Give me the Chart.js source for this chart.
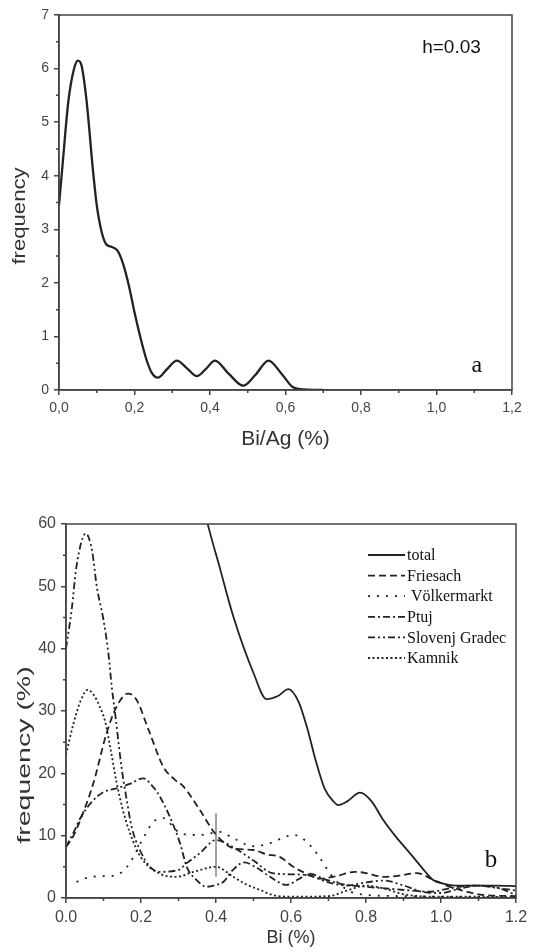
<!DOCTYPE html>
<html lang="en">
<head>
<meta charset="utf-8">
<title>Bi frequency</title>
<script src="https://cdn.jsdelivr.net/npm/chart.js@4/dist/chart.umd.min.js"></script>
<style>
  body { margin: 0; background: #fff; }
  canvas { display: block; }
</style>
</head>
<body>
<canvas id="chartA" width="533" height="460"></canvas>
<canvas id="chartB" width="533" height="492"></canvas>
<script>
// ---- chart a : kernel density, h=0.03
const biAg = [0, 0.01, 0.025, 0.04, 0.05, 0.06, 0.073, 0.09, 0.1, 0.113, 0.125, 0.14, 0.155, 0.17,
  0.185, 0.2, 0.215, 0.232, 0.245, 0.262, 0.285, 0.312, 0.34, 0.365, 0.39, 0.413, 0.45, 0.488,
  0.52, 0.555, 0.59, 0.62, 0.65, 0.7];
const freqA = [3.45, 4.25, 5.4, 6.0, 6.15, 6.05, 5.4, 4.1, 3.45, 2.95, 2.72, 2.67, 2.6, 2.35,
  1.95, 1.45, 1.0, 0.56, 0.33, 0.23, 0.38, 0.55, 0.4, 0.26, 0.4, 0.55, 0.3, 0.08,
  0.28, 0.55, 0.3, 0.05, 0.01, 0];
const xTicksA = [0, 0.2, 0.4, 0.6, 0.8, 1.0, 1.2];
const yTicksA = [0, 1, 2, 3, 4, 5, 6, 7];

// ---- chart b : by locality
const totalBi = [0.3, 0.35, 0.38, 0.41, 0.446, 0.5, 0.535, 0.565, 0.593, 0.62, 0.642, 0.668, 0.69,
  0.713, 0.726, 0.75, 0.784, 0.815, 0.846, 0.88, 0.917, 0.95, 0.979, 1.006, 1.04, 1.1, 1.15, 1.2];
const totalFreq = [78, 67, 59.5, 53, 45.2, 36.1, 31.9, 32.4, 33.5, 31.5, 27.5, 21.6, 17.5,
  15.5, 14.9, 15.5, 16.9, 15.5, 12.5, 9.8, 7.2, 4.8, 2.9, 2.3, 2.0, 2.0, 2.0, 1.9];

const friesachBi = [0, 0.02, 0.04, 0.073, 0.108, 0.135, 0.165, 0.188, 0.22, 0.26, 0.29, 0.313,
  0.357, 0.397, 0.446, 0.5, 0.535, 0.57, 0.606, 0.642, 0.677, 0.72, 0.77, 0.8, 0.846, 0.89,
  0.935, 0.98, 1.024, 1.07, 1.11, 1.2];
const friesachFreq = [8.2, 10, 12.8, 18.4, 26.4, 30.7, 32.8, 31.8, 27, 21, 19, 17.9,
  14.1, 10.4, 8.0, 7.7, 7.0, 6.6, 5.0, 3.9, 3.1, 3.5, 4.2, 4.0, 3.4, 3.6,
  4.0, 2.9, 1.8, 1.0, 0.5, 0.3];

const volkerBi = [0.028, 0.06, 0.1, 0.135, 0.16, 0.18, 0.205, 0.233, 0.26, 0.285, 0.304, 0.357,
  0.41, 0.446, 0.5, 0.544, 0.584, 0.61, 0.642, 0.668, 0.686, 0.704, 0.73, 0.76, 0.8, 0.9, 1.0, 1.1, 1.2];
const volkerFreq = [2.6, 3.3, 3.5, 3.7, 4.8, 6.6, 9.5, 12.2, 12.8, 11.5, 10.4, 10.1,
  10.6, 9.6, 8.3, 8.8, 9.8, 10.1, 9.0, 7.2, 5.6, 3.9, 2.2, 1.0, 0.5, 0.3, 0.2, 0.1, 0.1];

const ptujBi = [0, 0.02, 0.04, 0.07, 0.1, 0.135, 0.17, 0.206, 0.23, 0.25, 0.277, 0.304, 0.322,
  0.348, 0.375, 0.4, 0.42, 0.445, 0.475, 0.51, 0.544, 0.588, 0.62, 0.65, 0.69, 0.74, 0.8,
  0.86, 0.92, 0.97, 1.02, 1.08, 1.14, 1.2];
const ptujFreq = [8.2, 10.5, 13, 15.5, 17, 17.6, 18.3, 19.2, 18, 16.3, 13, 8.8, 5,
  2.9, 1.8, 2.1, 2.6, 4.5, 5.7, 4.8, 3.4, 2.1, 3.0, 3.9, 3.0, 2.2, 1.8,
  1.5, 1.2, 1.0, 1.5, 2.0, 1.8, 0.5];

const slovenjBi = [0, 0.015, 0.028, 0.053, 0.07, 0.082, 0.1, 0.113, 0.122, 0.131, 0.148, 0.162,
  0.175, 0.197, 0.224, 0.25, 0.3, 0.322, 0.357, 0.4, 0.45, 0.5, 0.55, 0.6, 0.65, 0.7, 0.75,
  0.8, 0.85, 0.9, 0.95, 1.0, 1.05, 1.1, 1.15, 1.2];
const slovenjFreq = [40, 46.2, 53.2, 58.5, 55.5, 50, 44.6, 39.3, 33.9, 29.6, 21, 15.7,
  11.4, 7.7, 5, 4.2, 4.5, 5.6, 7.2, 9.3, 8.0, 6.0, 4.0, 3.8, 3.6, 2.5, 2.0,
  2.5, 2.8, 2.0, 1.0, 0.8, 1.5, 2.0, 1.6, 1.2];

const kamnikBi = [0, 0.02, 0.04, 0.058, 0.075, 0.09, 0.104, 0.12, 0.135, 0.15, 0.17, 0.2, 0.25,
  0.295, 0.34, 0.4, 0.446, 0.48, 0.517, 0.55, 0.6, 0.7, 0.75, 0.8, 0.85, 0.9, 1.0, 1.1, 1.2];
const kamnikFreq = [23, 28, 31.8, 33.4, 32.5, 30.7, 28.4, 23.5, 18.5, 14.5, 10.5, 6.5, 3.9,
  3.4, 4.2, 5.0, 3.4, 2.2, 1.3, 0.5, 0.2, 0.3, 1.2, 2.0, 1.5, 0.6, 0.2, 0.2, 0.1];

const markBi = [0.4, 0.4];
const markFreq = [3.4, 13.6];

const xTicksB = [0, 0.2, 0.4, 0.6, 0.8, 1.0, 1.2];
const yTicksB = [0, 10, 20, 30, 40, 50, 60];
const xMinor = [0.1, 0.3, 0.5, 0.7, 0.9, 1.1];
const yMinorA = [0.5, 1.5, 2.5, 3.5, 4.5, 5.5, 6.5];
const yMinorB = [5, 15, 25, 35, 45, 55];

const SANS = '"Liberation Sans", Arial, sans-serif';
const SERIF = '"Liberation Serif", "Times New Roman", serif';
const INK = '#222';

function pts(xs, ys) {
  return xs.map((v, i) => ({x: v, y: ys[i]}));
}

function curve(label, xs, ys, dash, width) {
  return {
    label: label,
    data: pts(xs, ys),
    borderColor: INK,
    borderWidth: width,
    borderDash: dash,
    pointRadius: 0,
    fill: false,
    cubicInterpolationMode: 'monotone'
  };
}

// frame, minor ticks, titles, notes and legend
const decor = {
  id: 'decor',
  afterDraw(chart, args, o) {
    const {ctx, chartArea: a} = chart;
    const sx = chart.scales.x, sy = chart.scales.y;
    ctx.save();
    ctx.strokeStyle = '#444';
    ctx.lineWidth = 1.5;
    ctx.setLineDash([]);
    ctx.strokeRect(a.left, a.top, a.right - a.left, a.bottom - a.top);

    ctx.beginPath();
    xMinor.forEach(v => {
      const p = sx.getPixelForValue(v);
      ctx.moveTo(p, a.bottom); ctx.lineTo(p, a.bottom + 3);
    });
    o.yMinor.forEach(v => {
      const p = sy.getPixelForValue(v);
      ctx.moveTo(a.left, p); ctx.lineTo(a.left - 3, p);
    });
    ctx.stroke();

    // axis titles
    ctx.fillStyle = '#333';
    ctx.textAlign = 'center';
    ctx.textBaseline = 'middle';
    ctx.font = o.xTitleSize + 'px ' + SANS;
    ctx.fillText(o.xTitle, (a.left + a.right) / 2, a.bottom + o.xTitleOff);

    ctx.save();
    ctx.translate(o.yTitleX, a.top + o.yTitleOff);
    ctx.rotate(-Math.PI / 2);
    ctx.scale(o.yStretch, 1);
    ctx.font = o.yTitleSize + 'px ' + SANS;
    ctx.fillText(o.yTitle, 0, 0);
    ctx.restore();

    // notes placed in data units
    ctx.textBaseline = 'alphabetic';
    o.notes.forEach(n => {
      ctx.font = n.font;
      ctx.textAlign = n.align;
      ctx.fillStyle = '#111';
      ctx.fillText(n.text, sx.getPixelForValue(n.x), sy.getPixelForValue(n.y));
    });

    // legend inside the plot
    if (o.legend) {
      const x0 = a.right - 148, x1 = a.right - 111;
      let yy = a.top + 31;
      ctx.font = '16px ' + SERIF;
      ctx.textAlign = 'left';
      ctx.textBaseline = 'middle';
      chart.data.datasets.forEach(ds => {
        if (!ds.label) return;
        ctx.strokeStyle = INK;
        ctx.lineWidth = ds.borderWidth;
        ctx.setLineDash(ds.borderDash || []);
        ctx.beginPath();
        ctx.moveTo(x0, yy); ctx.lineTo(x1, yy);
        ctx.stroke();
        ctx.fillStyle = '#111';
        const gap = ds.label === 'Völkermarkt' ? 6 : 2;
        ctx.fillText(ds.label, x1 + gap, yy + 1);
        yy += 20.6;
      });
    }
    ctx.restore();
  }
};

function axes(xTicks, yTicks, fmtX, tickSize, yWidth, xHeight, yMax) {
  const tf = {family: SANS, size: tickSize};
  return {
    x: {
      type: 'linear', min: 0, max: 1.2,
      afterBuildTicks: s => { s.ticks = xTicks.map(v => ({value: v})); },
      afterFit: s => { s.height = xHeight; },
      ticks: {callback: fmtX, color: '#444', font: tf, padding: 5, maxRotation: 0, autoSkip: false},
      grid: {drawOnChartArea: false, drawTicks: true, tickLength: 5, color: '#444', lineWidth: 1.5},
      border: {color: '#444', width: 1.5}
    },
    y: {
      type: 'linear', min: 0, max: yMax,
      afterBuildTicks: s => { s.ticks = yTicks.map(v => ({value: v})); },
      afterFit: s => { s.width = yWidth; },
      ticks: {color: '#444', font: tf, padding: 5, autoSkip: false},
      grid: {drawOnChartArea: false, drawTicks: true, tickLength: 5, color: '#444', lineWidth: 1.5},
      border: {color: '#444', width: 1.5}
    }
  };
}

new Chart(document.getElementById('chartA'), {
  type: 'line',
  data: {datasets: [curve('', biAg, freqA, [], 2.3)]},
  options: {
    responsive: false,
    animation: false,
    layout: {padding: {top: 15, right: 21, left: 0, bottom: 0}},
    scales: axes(xTicksA, yTicksA, v => v.toFixed(1).replace('.', ','), 14, 59, 70, 7),
    plugins: {
      legend: {display: false},
      tooltip: {enabled: false},
      decor: {
        yMinor: yMinorA,
        xTitle: 'Bi/Ag (%)', xTitleSize: 21, xTitleOff: 49,
        yTitle: 'frequency', yTitleSize: 18, yTitleX: 20, yTitleOff: 201, yStretch: 1.23,
        notes: [
          {text: 'h=0.03', x: 0.962, y: 6.29, font: '19px ' + SANS, align: 'left'},
          {text: 'a', x: 1.107, y: 0.34, font: '24px ' + SERIF, align: 'center'}
        ]
      }
    }
  },
  plugins: [decor]
});

const marker = curve('', markBi, markFreq, [], 1.6);
marker.borderColor = '#8a8a8a';

new Chart(document.getElementById('chartB'), {
  type: 'line',
  data: {
    datasets: [
      curve('total', totalBi, totalFreq, [], 1.8),
      curve('Friesach', friesachBi, friesachFreq, [7, 4], 1.8),
      curve('Völkermarkt', volkerBi, volkerFreq, [2, 7], 1.8),
      curve('Ptuj', ptujBi, ptujFreq, [7, 3, 2, 3], 1.8),
      curve('Slovenj Gradec', slovenjBi, slovenjFreq, [7, 3, 2, 3, 2, 3], 1.8),
      curve('Kamnik', kamnikBi, kamnikFreq, [2, 2.5], 1.8),
      marker
    ]
  },
  options: {
    responsive: false,
    animation: false,
    layout: {padding: {top: 64, right: 17, left: 0, bottom: 0}},
    scales: axes(xTicksB, yTicksB, v => v.toFixed(1), 16, 66, 54, 60),
    plugins: {
      legend: {display: false},
      tooltip: {enabled: false},
      decor: {
        legend: true,
        yMinor: yMinorB,
        xTitle: 'Bi (%)', xTitleSize: 18, xTitleOff: 40,
        yTitle: 'frequency (%)', yTitleSize: 19, yTitleX: 25, yTitleOff: 231, yStretch: 1.5,
        notes: [
          {text: 'b', x: 1.133, y: 5.0, font: '25px ' + SERIF, align: 'center'}
        ]
      }
    }
  },
  plugins: [decor]
});
</script>
</body>
</html>
